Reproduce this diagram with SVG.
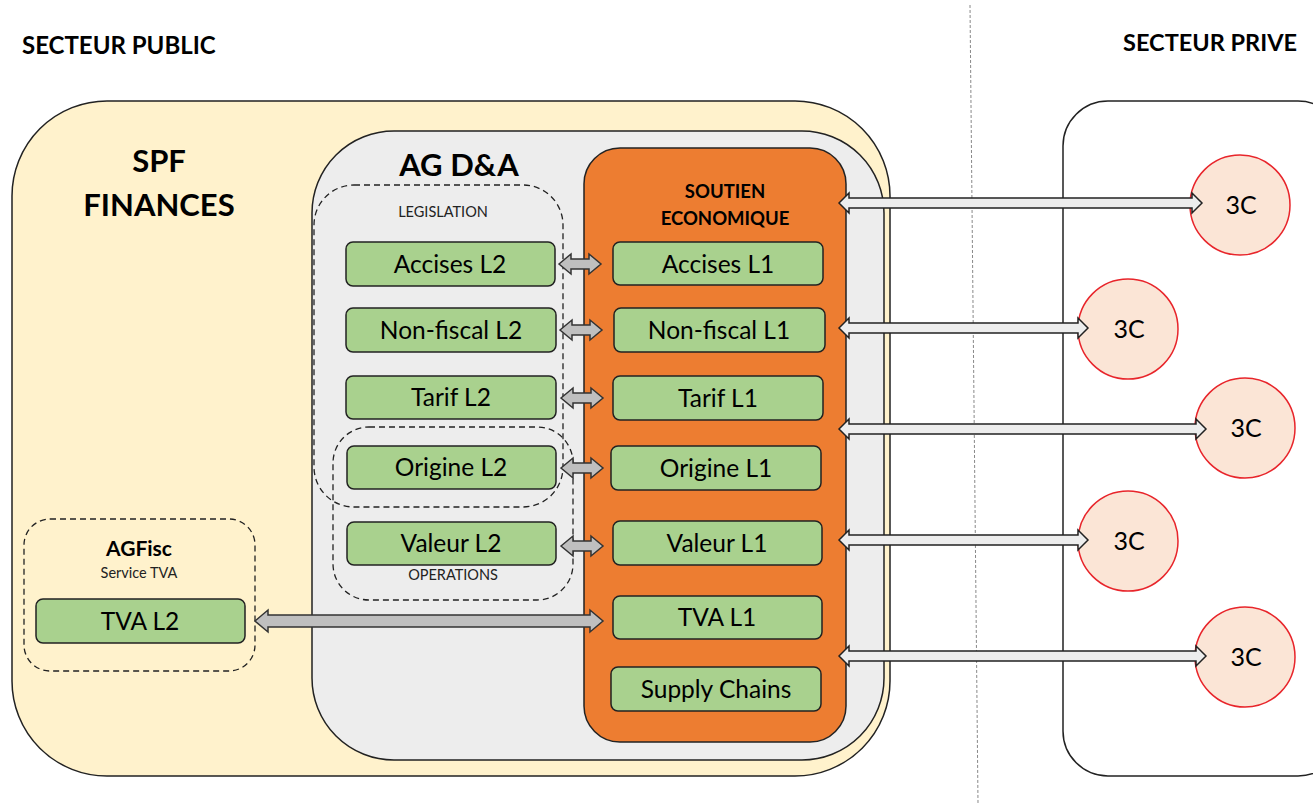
<svg xmlns="http://www.w3.org/2000/svg" width="1313" height="803" viewBox="0 0 1313 803">
<style>
text{font-family:Lato,"Open Sans","Liberation Sans",sans-serif;fill:#000}
.box{stroke:#222;stroke-width:1.5}
.green{fill:#A9D18E;stroke:#222;stroke-width:1.5}
.gtxt{font-size:24.5px;text-anchor:middle}
.dash{fill:none;stroke:#222;stroke-width:1.3;stroke-dasharray:6 4}
.garrow{fill:#BFBFBF;stroke:#333;stroke-width:1.5;stroke-linejoin:miter}
.warrow{fill:#EDEDED;stroke:#222;stroke-width:1.5}
.circ{fill:#FBE5D6;stroke:#E8252B;stroke-width:1.5}
.ctxt{font-size:25px;text-anchor:middle}
.small{font-size:14.5px;text-anchor:middle;fill:#222}
</style>
<rect width="1313" height="803" fill="#fff"/>
<line x1="970" y1="5" x2="978" y2="803" stroke="#888" stroke-width="1" stroke-dasharray="3 2"/>
<text x="22" y="54" font-size="24" font-weight="bold">SECTEUR PUBLIC</text>
<text x="1297" y="51" font-size="23.5" font-weight="bold" text-anchor="end">SECTEUR PRIVE</text>

<g id="spf">
<rect class="box" x="12" y="101" width="878" height="675" rx="95" fill="#FFF2CC"/>
<text x="159" y="172" font-size="31" font-weight="bold" text-anchor="middle">SPF</text>
<text x="159" y="216" font-size="31" font-weight="bold" text-anchor="middle">FINANCES</text>
</g>
<g id="prive">
<rect class="box" x="1063" y="101" width="280" height="675" rx="45" fill="#fff"/>
</g>
<g id="agda">
<rect class="box" x="312" y="131" width="572" height="629" rx="82" fill="#EDEDED"/>
<text x="459" y="176" font-size="31" font-weight="bold" text-anchor="middle">AG D&amp;A</text>
</g>
<g id="legislation">
<rect class="dash" x="314" y="185" width="249" height="322" rx="40"/>
<text class="small" x="443" y="217">LEGISLATION</text>
</g>
<g id="operations">
<rect class="dash" x="333" y="427" width="240" height="173" rx="36"/>
<text class="small" x="453" y="580">OPERATIONS</text>
</g>
<g id="agfisc">
<rect class="dash" x="24" y="519" width="231" height="152" rx="26"/>
<text x="139" y="556" font-size="21" font-weight="bold" text-anchor="middle">AGFisc</text>
<text class="small" x="139" y="578">Service TVA</text>
</g>
<g id="soutien">
<rect class="box" x="584" y="148" width="262" height="594" rx="36" fill="#ED7D31"/>
<text x="725" y="198" font-size="18.5" font-weight="bold" text-anchor="middle">SOUTIEN</text>
<text x="725" y="225" font-size="18.5" font-weight="bold" text-anchor="middle">ECONOMIQUE</text>
</g>

<g id="accises-l2"><rect class="green" x="346" y="242" width="209" height="44" rx="7"/><text class="gtxt" x="450" y="273">Accises L2</text></g>
<g id="nonfiscal-l2"><rect class="green" x="346" y="308" width="210" height="44" rx="7"/><text class="gtxt" x="451" y="339">Non-fiscal L2</text></g>
<g id="tarif-l2"><rect class="green" x="346" y="376" width="210" height="43" rx="7"/><text class="gtxt" x="451" y="406">Tarif L2</text></g>
<g id="origine-l2"><rect class="green" x="347" y="446" width="209" height="43" rx="7"/><text class="gtxt" x="451" y="476">Origine L2</text></g>
<g id="valeur-l2"><rect class="green" x="347" y="522" width="209" height="43" rx="7"/><text class="gtxt" x="451" y="552">Valeur L2</text></g>
<g id="tva-l2"><rect class="green" x="36" y="599" width="209" height="44" rx="7"/><text class="gtxt" x="140" y="630">TVA L2</text></g>

<g id="accises-l1"><rect class="green" x="613" y="242" width="210" height="43" rx="7"/><text class="gtxt" x="718" y="273">Accises L1</text></g>
<g id="nonfiscal-l1"><rect class="green" x="614" y="308" width="211" height="44" rx="7"/><text class="gtxt" x="719" y="339">Non-fiscal L1</text></g>
<g id="tarif-l1"><rect class="green" x="613" y="376" width="210" height="44" rx="7"/><text class="gtxt" x="718" y="407">Tarif L1</text></g>
<g id="origine-l1"><rect class="green" x="611" y="446" width="210" height="44" rx="7"/><text class="gtxt" x="716" y="477">Origine L1</text></g>
<g id="valeur-l1"><rect class="green" x="613" y="521" width="209" height="44" rx="7"/><text class="gtxt" x="717" y="552">Valeur L1</text></g>
<g id="tva-l1"><rect class="green" x="613" y="596" width="209" height="43" rx="7"/><text class="gtxt" x="717" y="626">TVA L1</text></g>
<g id="supply-chains"><rect class="green" x="611" y="667" width="210" height="44" rx="7"/><text class="gtxt" x="716" y="698">Supply Chains</text></g>

<g id="c1"><circle class="circ" cx="1240" cy="205" r="50"/><text class="ctxt" x="1241" y="214">3C</text></g>
<g id="c2"><circle class="circ" cx="1128" cy="329" r="50"/><text class="ctxt" x="1129" y="338">3C</text></g>
<g id="c3"><circle class="circ" cx="1245" cy="428" r="50"/><text class="ctxt" x="1246" y="437">3C</text></g>
<g id="c4"><circle class="circ" cx="1128" cy="541" r="50"/><text class="ctxt" x="1129" y="550">3C</text></g>
<g id="c5"><circle class="circ" cx="1245" cy="657" r="50"/><text class="ctxt" x="1246" y="666">3C</text></g>

<g id="connectors">
<polygon class="garrow" points="559,264 571,254 571,259 589,259 589,254 601,264 589,274 589,269 571,269 571,274"/>
<polygon class="garrow" points="560,330 572,320 572,325 590,325 590,320 602,330 590,340 590,335 572,335 572,340"/>
<polygon class="garrow" points="561,398 573,388 573,393 591,393 591,388 603,398 591,408 591,403 573,403 573,408"/>
<polygon class="garrow" points="561,468 573,458 573,463 591,463 591,458 603,468 591,478 591,473 573,473 573,478"/>
<polygon class="garrow" points="561,546 573,536 573,541 591,541 591,536 603,546 591,556 591,551 573,551 573,556"/>
<polygon class="garrow" points="255,621 268,610 268,615 590,615 590,610 603,621 590,632 590,627 268,627 268,632"/>

<polygon class="warrow" points="839,203 849,193 849,198 1192,198 1192,193 1202,203 1192,213 1192,208 849,208 849,213"/>
<polygon class="warrow" points="839,328 849,318 849,323 1078,323 1078,318 1088,328 1078,338 1078,333 849,333 849,338"/>
<polygon class="warrow" points="839,429 849,419 849,424 1196,424 1196,419 1206,429 1196,439 1196,434 849,434 849,439"/>
<polygon class="warrow" points="839,540 849,530 849,535 1078,535 1078,530 1088,540 1078,550 1078,545 849,545 849,550"/>
<polygon class="warrow" points="839,656 849,646 849,651 1196,651 1196,646 1206,656 1196,666 1196,661 849,661 849,666"/>
</g>
</svg>
